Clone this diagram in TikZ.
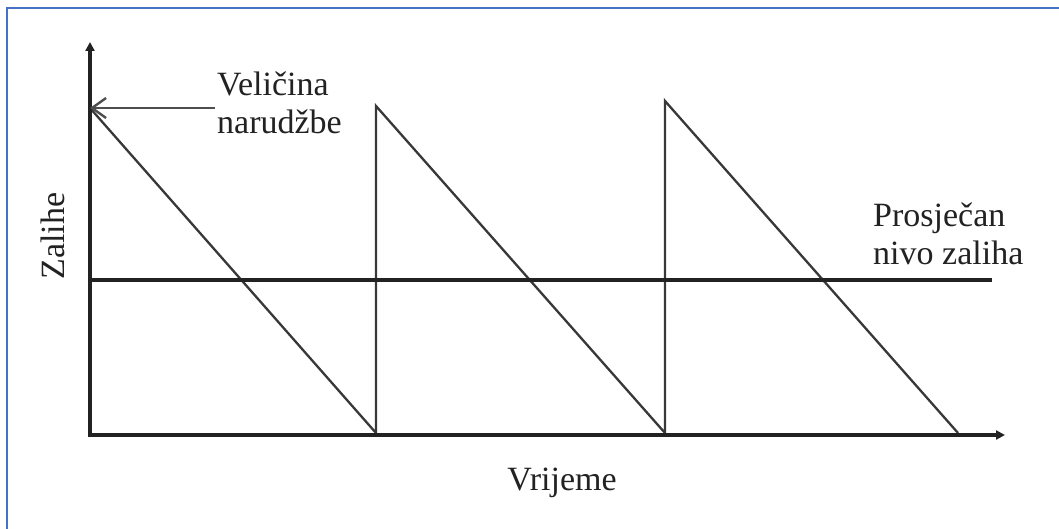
\documentclass[tikz,border=0pt]{standalone}
\usepackage{fontspec}
\setmainfont{Liberation Serif}
\usetikzlibrary{arrows.meta}
\definecolor{ink}{HTML}{222222}
\definecolor{framecol}{HTML}{4472C4}
\begin{document}
\begin{tikzpicture}[x=1pt,y=-1pt,
  axis/.style={line width=3.2pt, draw=ink, -{Triangle[length=9pt,width=9pt]}},
  saw/.style={line width=2.3pt, draw=ink!90, line join=miter},
  avg/.style={line width=3.2pt, draw=ink},
  lbl/.style={font=\fontsize{34}{38}\selectfont, text=ink, inner sep=0pt, align=left},
  pointer/.style={line width=1.6pt, draw=ink!80, -{Straight Barb[length=14pt,width=20pt,line width=2.4pt]}}]
\useasboundingbox (0,0) rectangle (1059,529);
\clip (0,0) rectangle (1059,529);
\fill[white] (0,0) rectangle (1059,529);
\draw[framecol, line width=2pt] (7,8) rectangle (1080,550);
% key points
\coordinate (o) at (90,435);
\coordinate (ytop) at (90,42);
\coordinate (xend) at (1005,435);
\coordinate (p1) at (90,108);
\coordinate (b1) at (376,433);
\coordinate (p2) at (376,106);
\coordinate (b2) at (665,433);
\coordinate (p3) at (665,101);
\coordinate (b3) at (958,433);
\coordinate (a1) at (90,280);
\coordinate (a2) at (992,280);
% sawtooth
\draw[saw] (p1) -- (b1) -- (p2) -- (b2) -- (p3) -- (b3);
% average level
\draw[avg] (a1) -- (a2);
% axes
\draw[axis] (o) -- (ytop);
\draw[axis] ([xshift=-1.6pt]o) -- (xend);
% labels
\node[lbl, anchor=west] (vel) at (217,102.5) {Veličina\\narudžbe};
\node[lbl, anchor=west] (avgl) at (873,233.5) {Prosječan\\nivo zaliha};
\node[lbl, rotate=90] (ylab) at (53,236) {Zalihe};
\node[lbl, anchor=base] (xlab) at (562,490) {Vrijeme};
\coordinate (ps) at ([xshift=-2pt]vel.west |- p1);
\draw[pointer] (ps) -- (p1);
\end{tikzpicture}
\end{document}
